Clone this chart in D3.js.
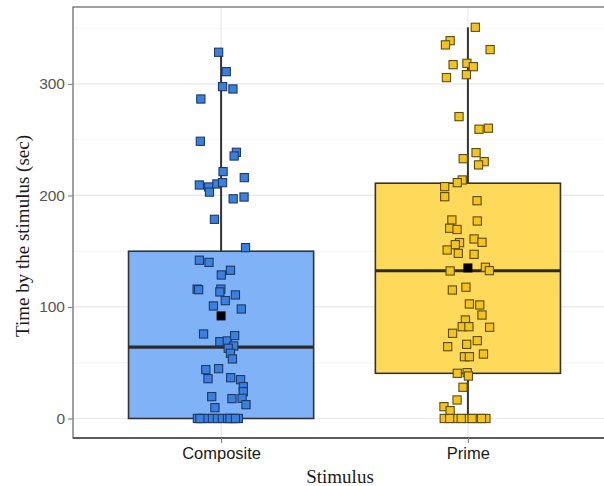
<!DOCTYPE html>
<html>
<head>
<meta charset="utf-8">
<script src="https://cdn.jsdelivr.net/npm/d3@7"></script>
<style>
  html, body { margin: 0; padding: 0; background: #fff; }
  svg { display: block; }
</style>
</head>
<body>
<svg id="chart" width="604" height="486"></svg>
<script>
// ---------------- data ----------------
const categories = ["Composite", "Prime"];
const yTicks = [0, 100, 200, 300];
const yMinorTicks = [50, 150, 250, 350];

// box summaries: [lower whisker, Q1, median, Q3, upper whisker]
const compositeBox = [0, 0, 64, 150, 328.4];
const primeBox = [0, 40.5, 132.5, 211, 350.8];
const means = [92, 135];

// observations (seconds) and horizontal jitter (fraction of category spacing)
const compositeValues = [328.4, 311, 297.6, 295.5, 286.5, 248.6, 238.7, 235.4, 221.4, 216,
  209.4, 207.6, 203, 210.3, 211.5, 197, 198.6, 178.6, 153.2, 141.9,
  140, 128.7, 132.9, 116, 115.5, 116, 113.5, 110.8, 105.7, 100.9,
  98.2, 75.8, 68.9, 69.5, 74.3, 65, 63, 58.5, 53.4, 43.8,
  35.7, 44.7, 36.6, 34.8, 28.5, 24, 19.6, 17.8, 18.1, 12.4,
  9.7, 0, 0, 0, 0, 0, 0, 0, 0, 0,
  0, 0, 0];
const compositeJitter = [-0.010, 0.021, 0.006, 0.048, -0.082, -0.084, 0.062, 0.053, 0.008, 0.094,
  -0.088, -0.050, -0.047, -0.017, 0.006, 0.049, 0.093, -0.027, 0.099, -0.088,
  -0.049, 0.001, 0.038, -0.097, -0.091, -0.001, -0.005, 0.058, 0.017, -0.031,
  0.082, -0.071, -0.005, 0.025, 0.055, 0.051, 0.029, 0.038, 0.046, -0.062,
  -0.053, -0.010, 0.039, 0.079, 0.090, 0.090, -0.038, 0.044, 0.085, 0.101,
  -0.025, -0.096, -0.076, -0.055, -0.035, -0.015, 0.005, 0.026, 0.046, 0.070,
  -0.086, 0.036, 0.058];

const primeValues = [350.8, 338.8, 335, 330.8, 317.3, 318.5, 315.5, 308.3, 305.7, 270.7,
  259.4, 260.3, 238.4, 233, 230.3, 227.4, 213.9, 211.5, 207.9, 198.9,
  195.3, 178, 177.1, 170.6, 169.5, 161, 158, 157.7, 155.9, 151.1,
  148.1, 147.2, 132.3, 135.6, 132.6, 115.2, 117.7, 102.7, 101.8, 92.8,
  88.3, 82.3, 82.3, 81.8, 76.4, 69.8, 66.5, 64.4, 57.8, 55.4,
  55.4, 40.5, 41.1, 38.1, 28, 16.6, 10.6, 7, 0, 0,
  0, 0, 0, 0, 0, 0, 0];
const primeJitter = [0.030, -0.072, -0.091, 0.090, -0.060, -0.004, 0.022, -0.006, -0.087, -0.036,
  0.045, 0.083, 0.033, -0.019, 0.066, 0.043, -0.023, -0.043, -0.094, -0.094,
  0.037, -0.065, 0.038, -0.074, -0.044, 0.025, 0.057, -0.034, -0.051, -0.084,
  -0.039, 0.025, -0.072, 0.071, 0.087, -0.063, -0.008, 0.006, 0.048, 0.057,
  -0.010, -0.023, 0.004, 0.088, -0.062, 0.038, -0.005, -0.082, 0.063, -0.014,
  0.006, -0.043, -0.003, 0.002, -0.020, -0.044, -0.097, -0.072, -0.096, -0.051,
  -0.003, 0.036, 0.073, -0.074, -0.027, 0.017, 0.055];

// ---------------- layout / style ----------------
const panel = { left: 73, top: 7, right: 616, bottom: 438 };
const boxFill = ["#7fb2f7", "#fed95a"];
const pointFill = ["#3b80de", "#f3c41d"];
const pointStroke = ["#1c3a66", "#5c4b12"];

const svg = d3.select("#chart");

const y = d3.scaleLinear().domain([-17.5, 369]).range([panel.bottom, panel.top]);
const x = d3.scaleLinear().domain([0.4, 2.6]).range([panel.left, panel.right]);
const unit = x(2) - x(1);
const pos = c => x(categories.indexOf(c) + 1);

// gridlines
const g = svg.append("g");
g.selectAll("line.minor").data(yMinorTicks).join("line")
  .attr("x1", panel.left).attr("x2", panel.right)
  .attr("y1", d => y(d)).attr("y2", d => y(d))
  .attr("stroke", "#f2f2f2").attr("stroke-width", 0.8);
g.selectAll("line.major").data(yTicks).join("line")
  .attr("x1", panel.left).attr("x2", panel.right)
  .attr("y1", d => y(d)).attr("y2", d => y(d))
  .attr("stroke", "#e8e8e8").attr("stroke-width", 1.2);
g.selectAll("line.vmajor").data(categories).join("line")
  .attr("x1", d => pos(d)).attr("x2", d => pos(d))
  .attr("y1", panel.top).attr("y2", panel.bottom)
  .attr("stroke", "#e8e8e8").attr("stroke-width", 1.2);

// boxplots
const boxes = [compositeBox, primeBox];
const bw = 0.75 * unit;
categories.forEach((c, i) => {
  const b = boxes[i];
  const cx = pos(c);
  svg.append("line").attr("x1", cx).attr("x2", cx)
    .attr("y1", y(b[3])).attr("y2", y(b[4]))
    .attr("stroke", "#333").attr("stroke-width", 2);
  if (b[1] > b[0]) {
    svg.append("line").attr("x1", cx).attr("x2", cx)
      .attr("y1", y(b[1])).attr("y2", y(b[0]))
      .attr("stroke", "#333").attr("stroke-width", 2);
  }
  svg.append("rect")
    .attr("x", cx - bw / 2).attr("width", bw)
    .attr("y", y(b[3])).attr("height", y(b[1]) - y(b[3]))
    .attr("fill", boxFill[i]).attr("stroke", "#333").attr("stroke-width", 1.6);
  svg.append("line")
    .attr("x1", cx - bw / 2).attr("x2", cx + bw / 2)
    .attr("y1", y(b[2])).attr("y2", y(b[2]))
    .attr("stroke", "#2b2b2b").attr("stroke-width", 3.2);
});

// jittered points
const series = [
  { vals: compositeValues, jit: compositeJitter },
  { vals: primeValues, jit: primeJitter }
];
const s = 8.2;
series.forEach((se, i) => {
  const cx = pos(categories[i]);
  svg.append("g").selectAll("rect").data(se.vals).join("rect")
    .attr("x", (d, k) => cx + se.jit[k] * unit - s / 2)
    .attr("y", d => y(d) - s / 2)
    .attr("width", s).attr("height", s)
    .attr("fill", pointFill[i]).attr("stroke", pointStroke[i]).attr("stroke-width", 1.1);
});

// means
svg.append("g").selectAll("rect").data(means).join("rect")
  .attr("x", (d, i) => pos(categories[i]) - 4.5)
  .attr("y", d => y(d) - 4.5)
  .attr("width", 9).attr("height", 9)
  .attr("fill", "#000");

// panel border
svg.append("rect")
  .attr("x", panel.left).attr("y", panel.top)
  .attr("width", panel.right - panel.left).attr("height", panel.bottom - panel.top)
  .attr("fill", "none").attr("stroke", "#6e6e6e").attr("stroke-width", 1.3);
svg.append("line")
  .attr("x1", panel.left).attr("x2", panel.right)
  .attr("y1", panel.bottom).attr("y2", panel.bottom)
  .attr("stroke", "#444").attr("stroke-width", 1.3);

// axes
const yAxis = d3.axisLeft(y).tickValues(yTicks).tickSize(5).tickPadding(3).tickFormat(d3.format("d"));
const ya = svg.append("g").attr("transform", `translate(${panel.left},0)`).call(yAxis);
ya.select(".domain").remove();
ya.selectAll(".tick line").attr("stroke", "#8a8a8a").attr("stroke-width", 1.2);
ya.selectAll(".tick text").attr("fill", "#555")
  .style("font-family", "Liberation Sans, Arial, sans-serif").style("font-size", "15.5px");

const xAxis = d3.axisBottom(x).tickValues([1, 2]).tickSize(5).tickPadding(4)
  .tickFormat(d => categories[d - 1]);
const xa = svg.append("g").attr("transform", `translate(0,${panel.bottom})`).call(xAxis);
xa.select(".domain").remove();
xa.selectAll(".tick line").attr("stroke", "#8a8a8a").attr("stroke-width", 1.2);
xa.selectAll(".tick text").attr("fill", "#1a1a1a")
  .style("font-family", "Liberation Sans, Arial, sans-serif").style("font-size", "16.5px");

// titles
svg.append("text")
  .attr("x", 340).attr("y", 483)
  .attr("text-anchor", "middle")
  .style("font-family", "Liberation Serif, Times New Roman, serif").style("font-size", "19px")
  .attr("fill", "#1a1a1a")
  .text("Stimulus");
svg.append("text")
  .attr("transform", "translate(29,236) rotate(-90)")
  .attr("text-anchor", "middle")
  .style("font-family", "Liberation Serif, Times New Roman, serif").style("font-size", "19px")
  .attr("fill", "#1a1a1a")
  .text("Time by the stimulus (sec)");
</script>
</body>
</html>
